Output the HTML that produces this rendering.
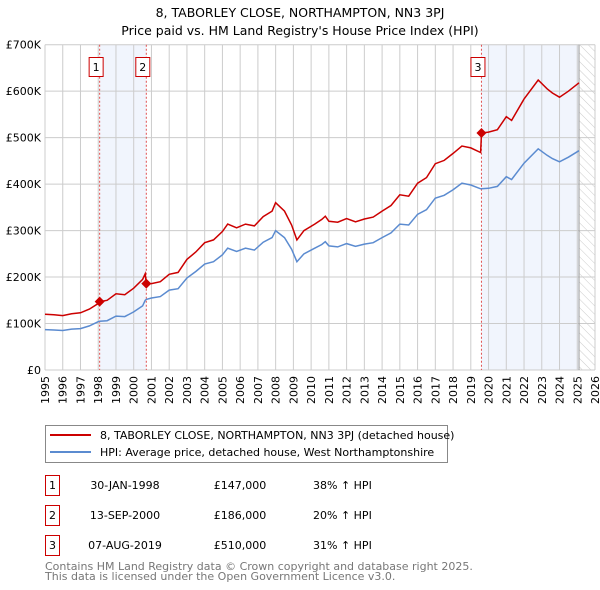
<!DOCTYPE html>
<html><head><meta charset="utf-8"><style>
html,body{margin:0;padding:0;background:#fff;}
body{width:600px;height:590px;position:relative;font-family:"DejaVu Sans","Liberation Sans",sans-serif;color:#000;}
</style></head><body>
<svg id="chart" width="600" height="590" xmlns="http://www.w3.org/2000/svg" style="position:absolute;left:0;top:0;font-family:'DejaVu Sans','Liberation Sans',sans-serif">
<defs><pattern id="hatch" patternUnits="userSpaceOnUse" width="6" height="6" patternTransform="rotate(-45)"><line x1="0" y1="0" x2="0" y2="6" stroke="#ccc" stroke-width="1"/></pattern></defs>
<text x="300" y="17" text-anchor="middle" font-size="12.5">8, TABORLEY CLOSE, NORTHAMPTON, NN3 3PJ</text>
<text x="300" y="35" text-anchor="middle" font-size="12.5">Price paid vs. HM Land Registry's House Price Index (HPI)</text>
<g id="plot"></g>
<g>
<rect x="45.5" y="425.5" width="402" height="37" fill="#fff" stroke="#888"/>
<line x1="50" y1="435" x2="91" y2="435" stroke="#cc0000" stroke-width="2"/>
<text x="100" y="439" font-size="11">8, TABORLEY CLOSE, NORTHAMPTON, NN3 3PJ (detached house)</text>
<line x1="50" y1="452" x2="91" y2="452" stroke="#5b8bd0" stroke-width="2"/>
<text x="100" y="456" font-size="11">HPI: Average price, detached house, West Northamptonshire</text>
</g>
<g id="table" font-size="11"></g>
<text x="45" y="570" font-size="11" fill="#777">Contains HM Land Registry data © Crown copyright and database right 2025.</text>
<text x="45" y="580" font-size="11" fill="#777">This data is licensed under the Open Government Licence v3.0.</text>
</svg>
<script>
const years=[1995.0,1995.5,1996.0,1996.5,1997.0,1997.5,1998.0,1998.08,1998.5,1999.0,1999.5,2000.0,2000.5,2000.65,2000.71,2001.0,2001.5,2002.0,2002.5,2003.0,2003.5,2004.0,2004.5,2005.0,2005.3,2005.8,2006.3,2006.8,2007.3,2007.8,2008.0,2008.5,2008.9,2009.2,2009.6,2010.2,2010.6,2010.8,2011.0,2011.5,2012.0,2012.5,2013.0,2013.5,2014.0,2014.5,2015.0,2015.5,2016.0,2016.5,2017.0,2017.5,2018.0,2018.5,2019.0,2019.55,2019.6,2020.0,2020.5,2021.0,2021.3,2022.0,2022.8,2023.3,2023.6,2024.0,2024.5,2025.1];
const hpiVals=[87,86,85,88,89,95,104,105,106,116,115,125,138,150,152,155,158,172,175,198,212,228,233,248,262,255,262,258,275,285,300,285,260,233,250,262,270,276,267,265,272,266,271,274,285,295,314,312,335,345,370,376,388,402,398,390,390,391,395,416,410,445,476,462,455,448,458,472];
const redVals=[120,119,117,121,123,131,143,147,150,164,162,176,195,207,186,186,190,206,210,238,254,274,280,298,314,306,314,310,330,342,360,342,312,280,300,314,324,331,320,318,326,319,325,329,342,354,377,374,402,414,444,451,466,482,478,468,510,512,517,545,537,583,624,605,596,587,600,618];
const saleYears=[1998.08,2000.71,2019.6];
const salePrices=[147,186,510];
const saleLabels=["1","2","3"];
const saleDates=["30-JAN-1998","13-SEP-2000","07-AUG-2019"];
const salePriceText=["£147,000","£186,000","£510,000"];
const saleHpiText=["38% ↑ HPI","20% ↑ HPI","31% ↑ HPI"];
const yTicks=[0,100,200,300,400,500,600,700];
const yTickLabels=["£0","£100K","£200K","£300K","£400K","£500K","£600K","£700K"];
const dataEndYear=2025.1;

const X0=45,X1=595,Y0=370,Y1=44.7,YR0=1995,YR1=2026,VMAX=700;
const xs=y=>X0+(y-YR0)/(YR1-YR0)*(X1-X0);
const ys=v=>Y0-v/VMAX*(Y0-Y1);
const NS="http://www.w3.org/2000/svg";
const plot=document.getElementById('plot');
function mk(tag,at,parent){const e=document.createElementNS(NS,tag);for(const k in at)e.setAttribute(k,at[k]);(parent||plot).appendChild(e);return e;}

let r=mk('rect',{x:xs(saleYears[0]),y:Y1,width:xs(saleYears[1])-xs(saleYears[0]),height:Y0-Y1,fill:'#eef3fd',opacity:0.8});


r=mk('rect',{x:xs(saleYears[2]),y:Y1,width:xs(dataEndYear)-xs(saleYears[2]),height:Y0-Y1,fill:'#eef3fd',opacity:0.8});


r=mk('rect',{x:xs(dataEndYear),y:Y1,width:X1-xs(dataEndYear),height:Y0-Y1,fill:'url(#hatch)'});



for(let y=YR0;y<=YR1;y++){
  const g=mk('line',{x1:xs(y),x2:xs(y),y1:Y1,y2:Y0,stroke:'#ccc','stroke-width':1});
  
  
  const t=mk('text',{x:0,y:0,'font-size':11,'text-anchor':'end',transform:`translate(${xs(y)+4},${Y0+6}) rotate(-90)`});
  t.textContent=String(y);
  
  
}
yTicks.forEach((v,i)=>{
  const g=mk('line',{x1:X0,x2:X1,y1:ys(v),y2:ys(v),stroke:'#ccc','stroke-width':1});
  
  
  const t=mk('text',{x:X0-4,y:ys(v)+4,'font-size':11,'text-anchor':'end'});
  t.textContent=yTickLabels[i];
  
  
});
let el=mk('line',{x1:xs(dataEndYear),x2:xs(dataEndYear),y1:Y1,y2:Y0,stroke:'#999','stroke-width':1});



saleYears.forEach((sy,i)=>{
  const l=mk('line',{x1:xs(sy),x2:xs(sy),y1:Y1,y2:Y0,stroke:'#e05050','stroke-width':1,'stroke-dasharray':'2,2'});
  
  
  const b=mk('rect',{x:xs(sy)-10.5,y:57.5,width:14,height:19,fill:'#fff',stroke:'#cc0000'});
  
  
  const t=mk('text',{x:xs(sy)-3.5,y:71,'font-size':11,'text-anchor':'middle'});
  t.textContent=saleLabels[i];
  
  
});

const path=vals=>vals.map((v,i)=>(i?'L':'M')+xs(years[i]).toFixed(1)+','+ys(v).toFixed(1)).join('');
el=mk('path',{d:path(hpiVals),fill:'none',stroke:'#5b8bd0','stroke-width':1.5});


el=mk('path',{d:path(redVals),fill:'none',stroke:'#cc0000','stroke-width':1.5});


saleYears.forEach((sy,i)=>{
  const cx=xs(sy),cy=ys(salePrices[i]);
  const p=mk('path',{d:`M${cx},${cy-5}L${cx+5},${cy}L${cx},${cy+5}L${cx-5},${cy}Z`,fill:'#cc0000'});
  
  
});

const tbl=document.getElementById('table');
saleLabels.forEach((lab,i)=>{
  const y0=475+i*30;
  const b=mk('rect',{x:45.5,y:y0+0.5,width:14,height:20,fill:'#fff',stroke:'#cc0000'},tbl);
  
  
  const cells=[[52.5,lab,'middle'],[125,saleDates[i],'middle'],[240,salePriceText[i],'middle'],[313,saleHpiText[i],'start']];
  cells.forEach(c=>{
    const t=mk('text',{x:c[0],y:y0+14,'text-anchor':c[2]},tbl);
    t.textContent=c[1];
    
    
  });
});
</script>
</body></html>
